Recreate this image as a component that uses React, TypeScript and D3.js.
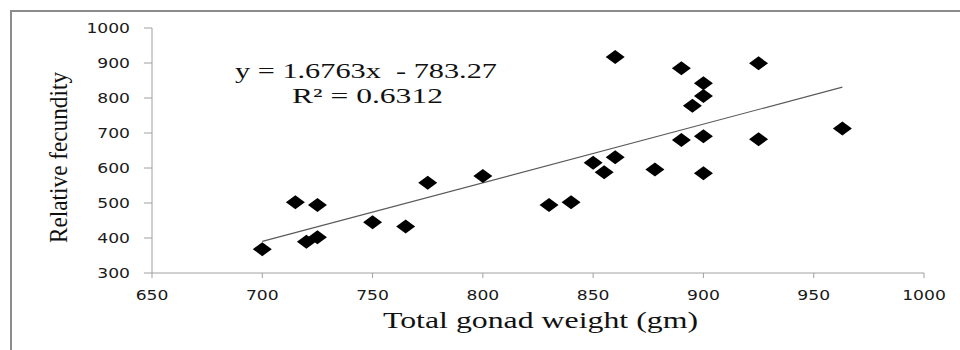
import React from 'react';
import * as d3 from 'd3';

// gonad weight (gm) vs relative fecundity
const weights = [700, 715, 720, 725, 725, 750, 765, 775, 800, 830, 840, 850, 855, 860, 860, 878, 890, 890, 895, 900, 900, 900, 900, 925, 925, 963];
const fecundity = [368, 502, 389, 494, 402, 445, 433, 558, 577, 494, 502, 615, 588, 631, 917, 596, 885, 680, 778, 842, 806, 691, 585, 899, 682, 713];

const xTicks = [650, 700, 750, 800, 850, 900, 950, 1000];
const yTicks = [300, 400, 500, 600, 700, 800, 900, 1000];

const slope = 1.6763;
const intercept = -783.27;
const equationLabel = 'y = 1.6763x  - 783.27';
const r2Label = 'R² = 0.6312';
const xTitle = 'Total gonad weight (gm)';
const yTitle = 'Relative fecundity';

const W = 960, H = 350;

export default function App() {
  const x = d3.scaleLinear().domain([650, 1000]).range([152, 924]);
  const y = d3.scaleLinear().domain([300, 1000]).range([273, 28]);

  const points = weights.map((w, i) => [w, fecundity[i]]);
  const xMin = d3.min(weights) as number;
  const xMax = d3.max(weights) as number;
  const trend = d3.line()([
    [x(xMin), y(slope * xMin + intercept)],
    [x(xMax), y(slope * xMax + intercept)],
  ]);

  const diamond = 'M0,-7L9.5,0L0,7L-9.5,0Z';
  const axisColor = '#a0a0a0';
  const tickFont = { fontFamily: 'DejaVu Sans', fontSize: 13.5, fill: '#1a1a1a' };
  const serif = 'Liberation Serif';

  return (
    <svg width={W} height={H} style={{ position: 'absolute', left: 0, top: 0, background: '#fff' }}>
      {/* frame (top + left only visible) */}
      <line x1={10} x2={W} y1={11} y2={11} stroke="#8c8c8c" strokeWidth={2} />
      <line x1={11} x2={11} y1={10} y2={H} stroke="#8c8c8c" strokeWidth={2} />

      {/* y axis */}
      <line x1={x(650)} x2={x(650)} y1={y(300)} y2={y(1000)} stroke={axisColor} />
      {yTicks.map(t => (
        <g key={'y' + t}>
          <line x1={x(650) - 8} x2={x(650)} y1={y(t)} y2={y(t)} stroke={axisColor} />
          <text transform={`translate(130,${y(t) + 4.8}) scale(1.27,1)`} textAnchor="end" {...tickFont}>{t}</text>
        </g>
      ))}

      {/* x axis */}
      <line x1={x(650)} x2={x(1000)} y1={y(300)} y2={y(300)} stroke={axisColor} />
      {xTicks.map(t => (
        <g key={'x' + t}>
          <line x1={x(t)} x2={x(t)} y1={y(300)} y2={y(300) + 5} stroke={axisColor} />
          <text transform={`translate(${x(t)},300) scale(1.27,1)`} textAnchor="middle" {...tickFont}>{t}</text>
        </g>
      ))}

      {/* trend line */}
      <path d={trend || ''} stroke="#5a5a5a" strokeWidth={1.2} fill="none" />

      {/* points */}
      {points.map((p, i) => (
        <path key={i} d={diamond} transform={`translate(${x(p[0])},${y(p[1])})`} fill="#000" />
      ))}

      {/* equation */}
      <text x={235} y={78} fontFamily={serif} fontSize={22} fill="#111" textLength={262} lengthAdjust="spacingAndGlyphs" style={{ whiteSpace: 'pre' }}>{equationLabel}</text>
      <text x={292} y={103} fontFamily={serif} fontSize={22} fill="#111" textLength={151} lengthAdjust="spacingAndGlyphs">{r2Label}</text>

      {/* titles */}
      <text x={383} y={328} fontFamily={serif} fontSize={22.5} fill="#111" textLength={315} lengthAdjust="spacingAndGlyphs">{xTitle}</text>
      <text transform="translate(67,157.5) scale(1.12,1) rotate(-90)" textAnchor="middle" fontFamily={serif} fontSize={23} fill="#111" textLength={171} lengthAdjust="spacingAndGlyphs">{yTitle}</text>
    </svg>
  );
}
